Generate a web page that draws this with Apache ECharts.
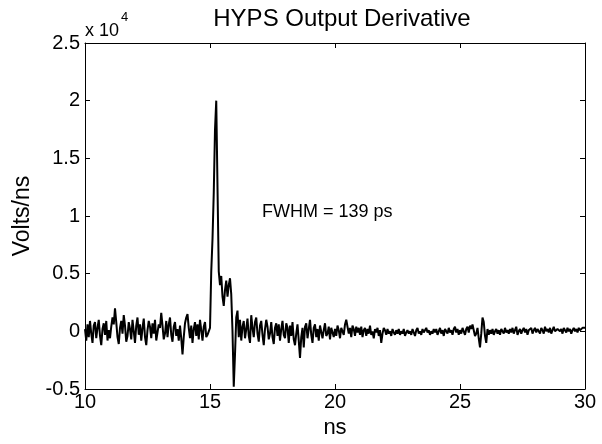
<!DOCTYPE html>
<html>
<head>
<meta charset="utf-8">
<script src="https://cdn.jsdelivr.net/npm/echarts@6/dist/echarts.min.js"></script>
<style>html,body{margin:0;padding:0;background:#fff;}#c{width:602px;height:444px;}</style>
</head>
<body>
<div id="c"></div>
<script>
// Sampling of the trace (ns)
var tStart = 10.0;
var tStep = 0.05;
// Values in units of 1e4 Volts/ns
var preTrigger = [ // 10.00 - 14.95 ns
  0.02,-0.08,0.06,-0.05,0.09,-0.02,-0.10,0.05,0.08,-0.06,0.03,0.10,-0.04,-0.12,0.02,0.07,-0.03,0.09,-0.08,0.01,
  -0.06,0.04,0.12,0.06,0.20,0.08,-0.05,-0.11,0.03,0.09,-0.02,0.14,0.05,-0.09,-0.04,0.08,0.02,-0.07,0.10,0.00,
  -0.10,0.05,0.12,-0.03,0.06,-0.08,0.03,0.11,-0.05,-0.12,0.01,0.09,0.04,-0.06,0.07,-0.02,0.10,-0.08,-0.01,0.06,
  0.03,0.16,0.05,-0.07,-0.02,0.09,-0.05,0.06,0.12,-0.03,-0.09,0.04,0.08,-0.04,0.02,-0.08,0.05,-0.06,-0.20,-0.05,
  0.07,0.12,0.15,0.03,-0.06,0.05,-0.10,0.02,0.08,-0.04,0.06,-0.07,0.10,0.01,-0.08,0.04,0.08,-0.05,-0.03,0.00
];
var pulse = [ // 15.00 - 15.95 ns
  0.03,0.52,0.80,1.20,1.75,2.00,1.25,0.52,0.40,0.48,0.30,0.22,0.36,0.44,0.30,0.40,0.46,0.32,0.00,-0.48
];
var ringdown = [ // 16.00 - 20.95 ns
  -0.20,0.12,0.18,-0.05,0.10,-0.08,0.04,0.09,-0.06,0.02,0.11,-0.04,-0.10,0.14,0.03,-0.05,0.08,0.12,-0.02,-0.09,
  0.05,0.09,-0.03,-0.12,0.02,0.10,0.04,-0.07,-0.02,0.08,-0.05,-0.11,0.03,0.07,-0.04,0.06,-0.08,0.02,0.09,-0.03,
  -0.06,0.07,0.03,-0.10,0.05,-0.04,0.08,-0.07,-0.12,-0.02,0.06,-0.08,-0.23,-0.05,0.03,-0.14,0.04,0.07,-0.06,0.02,
  0.10,-0.03,-0.10,0.03,0.06,-0.05,0.02,-0.08,0.05,0.04,-0.06,0.01,0.07,-0.04,-0.02,0.04,-0.07,0.03,-0.01,-0.05,
  0.02,-0.04,0.05,0.01,-0.06,0.03,0.00,-0.03,0.06,0.10,0.04,-0.02,0.03,-0.05,0.05,0.02,-0.04,0.04,-0.01,0.03
];
var tail = [ // 21.00 - 30.00 ns
  -0.03,0.04,-0.05,0.01,0.03,-0.04,0.02,-0.02,0.05,-0.03,0.00,-0.06,0.02,-0.01,0.03,-0.04,0.01,-0.10,-0.02,0.03,
  0.01,-0.03,0.02,-0.02,0.00,-0.04,0.02,-0.01,-0.03,0.01,-0.02,0.02,-0.03,0.00,-0.02,0.02,-0.04,-0.01,0.01,-0.02,
  0.00,-0.03,0.02,-0.01,-0.04,0.01,0.03,-0.02,0.00,-0.03,0.02,-0.01,-0.02,0.03,-0.01,0.01,-0.03,0.00,-0.02,0.02,
  -0.01,0.02,-0.03,0.00,0.03,-0.02,0.01,-0.04,0.02,0.00,-0.02,0.03,-0.01,0.01,-0.03,0.02,0.04,-0.01,0.02,-0.03,
  0.01,-0.02,0.03,0.00,-0.03,0.02,0.04,-0.01,0.05,0.02,0.06,0.01,-0.04,-0.02,0.03,-0.06,-0.14,-0.02,0.12,0.08,
  -0.04,-0.10,0.02,-0.03,0.01,-0.02,0.02,-0.03,0.00,0.02,-0.02,0.01,-0.03,0.02,0.00,-0.02,0.03,-0.01,0.01,-0.02,
  0.02,-0.01,0.03,-0.02,0.01,0.04,-0.03,0.00,0.02,-0.02,0.01,0.03,-0.01,0.02,-0.03,0.01,0.00,0.03,-0.02,0.01,
  0.03,-0.01,0.02,0.00,-0.02,0.03,0.01,-0.02,0.04,0.00,0.02,-0.01,0.03,-0.02,0.01,0.04,0.00,-0.01,0.02,0.03,
  0.00,0.02,-0.02,0.03,0.01,-0.01,0.03,0.00,0.02,-0.02,0.01,0.03,0.00,0.02,-0.01,0.03,0.01,0.00,0.03,0.02,0.03
];
var xTicks = [10, 15, 20, 25, 30];
var yTicks = [-0.5, 0, 0.5, 1, 1.5, 2, 2.5];
var titleText = 'HYPS Output Derivative';
var xName = 'ns';
var yName = 'Volts/ns';
var note = 'FWHM = 139 ps';
var scaleText = 'x 10';
var scaleExp = '4';

var allVals = preTrigger.concat(pulse, ringdown, tail);
var seriesData = allVals.map(function (v, i) {
  return [+(tStart + i * tStep).toFixed(2), v];
});

var FONT = 'Arial, "Liberation Sans", sans-serif';
var chart = echarts.init(document.getElementById('c'), null, {renderer: 'canvas'});
var axisCommon = {
  axisLine: {show: true, onZero: false, lineStyle: {color: '#000', width: 1}},
  axisTick: {show: true, inside: true, length: 5, lineStyle: {color: '#000'}},
  splitLine: {show: false}
};
chart.setOption({
  animation: false,
  backgroundColor: '#fff',
  title: {
    text: titleText, left: 337, top: 2, textAlign: 'center',
    textStyle: {fontFamily: FONT, fontSize: 24, fontWeight: 'normal', color: '#000'}
  },
  grid: {left: 85, right: 17, top: 43, bottom: 55},
  xAxis: [
    Object.assign({}, axisCommon, {
      type: 'value', min: xTicks[0], max: xTicks[xTicks.length - 1], interval: 5,
      position: 'bottom',
      name: xName, nameLocation: 'middle', nameGap: 28,
      nameTextStyle: {fontFamily: FONT, fontSize: 22, color: '#000'},
      axisLabel: {fontFamily: FONT, fontSize: 20, color: '#000', margin: 3}
    }),
    Object.assign({}, axisCommon, {
      type: 'value', min: xTicks[0], max: xTicks[xTicks.length - 1], interval: 5,
      position: 'top', axisLabel: {show: false}
    })
  ],
  yAxis: [
    Object.assign({}, axisCommon, {
      type: 'value', min: yTicks[0], max: yTicks[yTicks.length - 1], interval: 0.5,
      position: 'left',
      name: yName, nameLocation: 'middle', nameGap: 50, nameRotate: 90,
      nameTextStyle: {fontFamily: FONT, fontSize: 23, color: '#000'},
      axisLabel: {fontFamily: FONT, fontSize: 20, color: '#000', margin: 5}
    }),
    Object.assign({}, axisCommon, {
      type: 'value', min: yTicks[0], max: yTicks[yTicks.length - 1], interval: 0.5,
      position: 'right', axisLabel: {show: false}
    })
  ],
  graphic: [
    {
      type: 'text', left: 85, top: 22,
      style: {text: scaleText, fontFamily: FONT, fontSize: 18, fill: '#000'}
    },
    {
      type: 'text', left: 121, top: 11,
      style: {text: scaleExp, fontFamily: FONT, fontSize: 13, fill: '#000'}
    },
    {
      type: 'text', left: 262, top: 203,
      style: {text: note, fontFamily: FONT, fontSize: 18, fill: '#000'}
    }
  ],
  series: [{
    type: 'line',
    xAxisIndex: 0, yAxisIndex: 0,
    data: seriesData,
    showSymbol: false,
    symbol: 'none',
    lineStyle: {color: '#000', width: 2},
    clip: true
  }]
});
</script>
</body>
</html>
